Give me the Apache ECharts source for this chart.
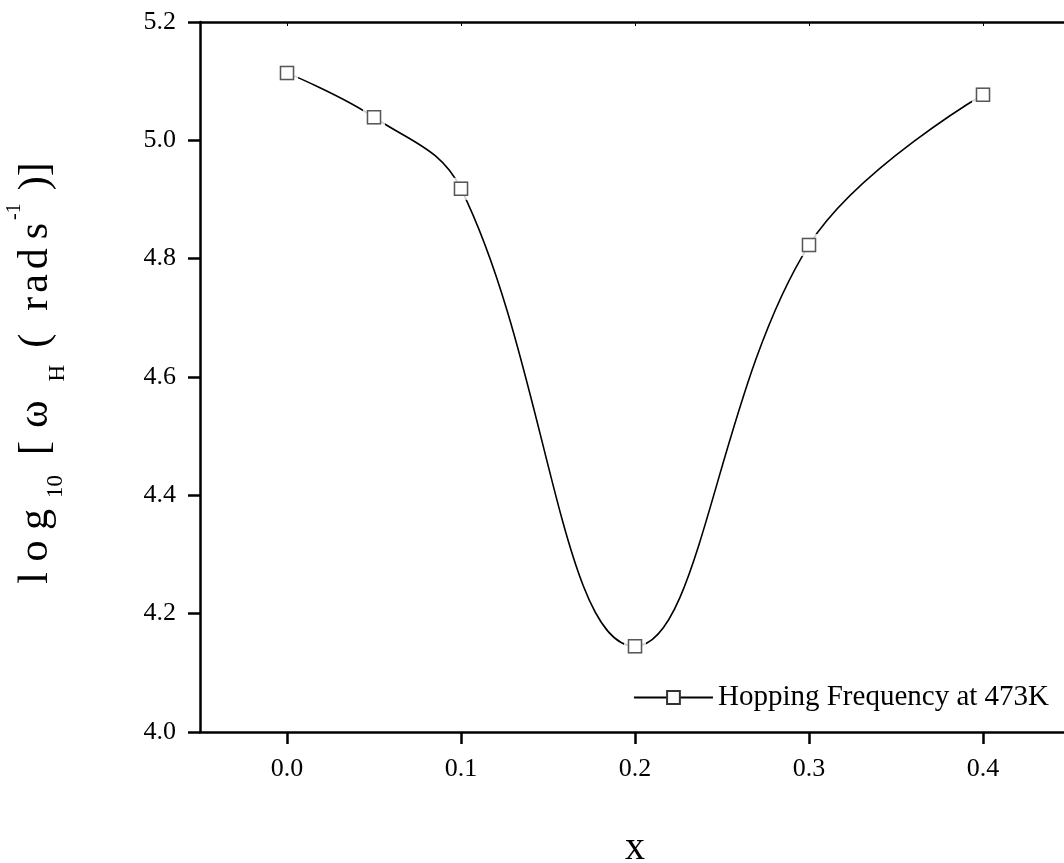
<!DOCTYPE html>
<html>
<head>
<meta charset="utf-8">
<script src="https://cdn.jsdelivr.net/npm/echarts@6/dist/echarts.min.js"></script>
<style>html,body{margin:0;padding:0;background:#fff;}#c{width:1064px;height:863px;}</style>
</head>
<body>
<div id="c"></div>
<script>
const xValues = [0.0, 0.05, 0.1, 0.2, 0.3, 0.4];
const yValues = [5.114, 5.039, 4.918, 4.145, 4.823, 5.077];
const xTicks = [0.0, 0.1, 0.2, 0.3, 0.4];
const seriesName = 'Hopping Frequency at 473K';

const pts = xValues.map((x, i) => [x, yValues[i]]);
const font = 'Liberation Serif';
const tok = (size, padTop, padLeft) => ({
  fontFamily: font, fontSize: size, color: '#000', verticalAlign: 'top',
  padding: [padTop, 0, 0, padLeft]
});
const chart = echarts.init(document.getElementById('c'), null, {renderer: 'canvas'});
chart.setOption({
  animation: false,
  backgroundColor: '#fff',
  grid: {left: 200, top: 22, width: 870, bottom: 131, containLabel: false, outerBoundsMode: 'none'},
  legend: {
    data: [seriesName],
    right: 10, top: 678,
    itemWidth: 79, itemHeight: 16,
    textStyle: {fontFamily: font, fontSize: 29, color: '#000'},
    itemGap: 6
  },
  xAxis: [{
    type: 'value', min: -0.05, max: 0.45, position: 'bottom',
    axisLine: {show: true, onZero: false, lineStyle: {color: '#000', width: 2.5}},
    axisTick: {show: true, customValues: xTicks, length: 12, lineStyle: {color: '#000', width: 2.5}},
    axisLabel: {customValues: xTicks, formatter: v => v.toFixed(1), fontFamily: font, fontSize: 26, color: '#000', margin: 24},
    splitLine: {show: false},
    name: 'x', nameLocation: 'middle', nameGap: 96,
    nameTextStyle: {fontFamily: font, fontSize: 40, color: '#000'}
  }, {
    type: 'value', min: -0.05, max: 0.45, position: 'top',
    axisLine: {show: true, onZero: false, lineStyle: {color: '#000', width: 2.5}},
    axisTick: {show: true, inside: true, customValues: xTicks, length: 4, lineStyle: {color: '#000', width: 1}},
    axisLabel: {show: false}, splitLine: {show: false}
  }],
  yAxis: {
    type: 'value', min: 4.0, max: 5.2, interval: 0.2,
    axisLine: {show: true, onZero: false, lineStyle: {color: '#000', width: 2.5}},
    axisTick: {show: true, length: 12, lineStyle: {color: '#000', width: 2.5}},
    axisLabel: {formatter: v => v.toFixed(1), fontFamily: font, fontSize: 26, color: '#000', margin: 24},
    splitLine: {show: false},
    name: '{m|l o g}{s|10}{b|[}{w|ω}{h|H}{o|(}{r|r}{a|a}{d|d}{e|s}{p|-1}{c|)}{k|]}',
    nameLocation: 'middle', nameGap: 131, nameRotate: 90,
    nameTextStyle: {
      fontFamily: font, fontSize: 42, color: '#000',
      padding: [0, 0, 0, 8],
      rich: {
        m: tok(42, 10, 0),
        s: tok(23, 39, 11),
        b: tok(42, 10, 20),
        w: tok(42, 10, 13),
        h: tok(23, 41, 19),
        o: tok(42, 10, 17),
        r: tok(42, 10, 23),
        a: tok(42, 10, 4),
        d: tok(42, 10, 5),
        e: tok(42, 10, 9),
        p: tok(20, 0, 3),
        c: tok(42, 10, 13),
        k: tok(42, 10, 0)
      }
    }
  },
  series: [{
    name: seriesName, type: 'line', data: pts, smooth: 0.4,
    symbol: 'rect', symbolSize: 13, showSymbol: true,
    lineStyle: {color: '#000', width: 1.6},
    itemStyle: {color: '#fff', borderColor: '#333', borderWidth: 1.5},
    z: 3
  }, {
    name: 'gap', type: 'scatter', data: pts, symbol: 'rect', symbolSize: 22,
    itemStyle: {color: '#fff'}, silent: true, z: 4
  }, {
    name: 'marks', type: 'scatter', data: pts, symbol: 'rect', symbolSize: 13,
    itemStyle: {color: '#fff', borderColor: '#333', borderWidth: 1.5}, silent: true, z: 5
  }]
});
</script>
</body>
</html>
